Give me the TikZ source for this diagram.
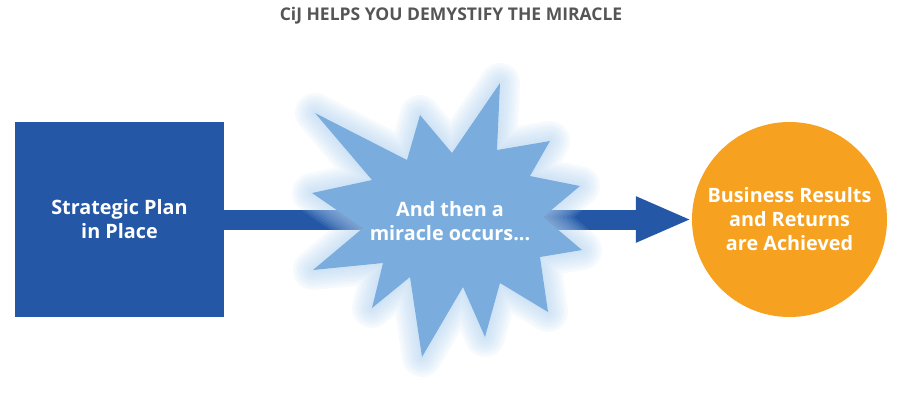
\documentclass[tikz,border=0pt]{standalone}
\usepackage{fontspec}
\setmainfont{Open Sans}
\usetikzlibrary{arrows.meta}
\definecolor{planblue}{HTML}{2458A6}
\definecolor{starblue}{HTML}{7AADDD}
\definecolor{glowblue}{HTML}{B4D3F0}
\definecolor{goalorange}{HTML}{F6A11F}
\definecolor{titlegray}{HTML}{555555}
\tikzset{
  titletext/.style={text=titlegray, font=\fontsize{17.5}{20}\selectfont\bfseries},
  plantext/.style={text=white, align=center, font=\fontsize{19.8}{24}\selectfont\bfseries},
  planbox/.style={fill=planblue, minimum width=209pt, minimum height=195pt, inner sep=0pt, plantext},
  goalcircle/.style={circle, fill=goalorange, minimum size=195pt, inner sep=0pt, plantext},
  flowarrow/.style={draw=planblue, line width=20pt, -{Triangle[length=56pt,width=42pt]}},
  glow/.style={draw=glowblue, line join=round, opacity=0.11},
}
\begin{document}
\begin{tikzpicture}[x=1pt,y=-1pt]
\useasboundingbox (0,0) rectangle (900,408);
\node[titletext] (title) at (451,16) {CiJ HELPS YOU DEMYSTIFY THE MIRACLE};
\node[planbox] (plan) at (119.5,219.5) {Strategic Plan\\in Place};
\node[goalcircle] (goal) at (789.5,219.5) {Business Results\\and Returns\\are Achieved};
\draw[flowarrow] (plan.east) -- (goal.west);
\def\starpath{(500,83) -- (497,150) -- (550,141) -- (530,176) -- (580,186) -- (543,217) -- (582,250) -- (540,257) -- (548,312) -- (500,283) -- (485,337) -- (463,287) -- (422,357) -- (410,277) -- (372,308) -- (383,263) -- (313,270) -- (363,228) -- (312,193) -- (372,180) -- (315,113) -- (407,160) -- (420,115) -- (452,153) -- cycle}
\foreach \w in {40,35,30,25,20,15,10,5}{
  \draw[glow, line width=\w pt] \starpath;
}
\fill[starblue] \starpath;
\node[plantext] (miracle) at (450,221) {And then a\\miracle occurs...};
\end{tikzpicture}
\end{document}
